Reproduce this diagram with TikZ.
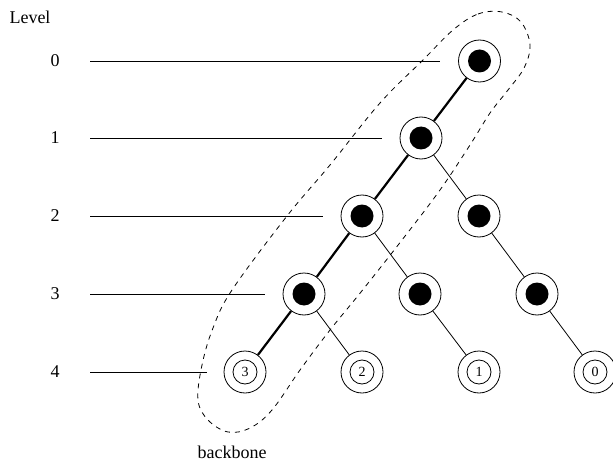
\documentclass[tikz,border=0pt]{standalone}
\usepackage{fontspec}
\setmainfont{Liberation Serif}
\begin{document}
\begin{tikzpicture}[x=1pt,y=-1pt,
  every node/.style={font=\fontsize{18}{20}\selectfont},
  hub/.style={circle,draw,line width=0.8pt,minimum size=42pt,inner sep=0pt,
    path picture={\fill (path picture bounding box.center) circle (11.5pt);}},
  leaf/.style={circle,draw,line width=0.8pt,minimum size=42pt,inner sep=0pt,
    font=\fontsize{14}{16}\selectfont,
    path picture={\draw[line width=0.8pt] (path picture bounding box.center) circle (12pt);}},
  edge/.style={line width=0.8pt},
  spine/.style={line width=2.2pt},
  levelline/.style={line width=0.8pt},
  hull/.style={dashed,line width=0.8pt,dash pattern=on 5pt off 5pt}]
\useasboundingbox (0,0) rectangle (613,468);

% level captions
\node (lvl) at (30,17) {Level};
\foreach \i/\y in {0/61,1/138,2/216,3/294,4/372}
  \node (c\i) at (55,\y) {\i};

% tree nodes
\node[hub] (n0) at (479.5,61) {};
\node[hub] (n1) at (421,138) {};
\node[hub] (n2a) at (362,216) {};
\node[hub] (n2b) at (479,216) {};
\node[hub] (n3a) at (304,294) {};
\node[hub] (n3b) at (420,294) {};
\node[hub] (n3c) at (537,294) {};
\node[leaf] (n4a) at (245,372) {3};
\node[leaf] (n4b) at (362,372) {2};
\node[leaf] (n4c) at (479,372) {1};
\node[leaf] (n4d) at (595,372) {0};

% level guide lines
\foreach \i/\y/\e in {0/61/440,1/138/382,2/216/323,3/294/265,4/372/207}{
  \coordinate (s\i) at (90,\y);
  \coordinate (e\i) at (\e,\y);
  \draw[levelline] (s\i) -- (e\i);
}

% backbone path
\draw[spine] (n0) -- (n1);
\draw[spine] (n1) -- (n2a);
\draw[spine] (n2a) -- (n3a);
\draw[spine] (n3a) -- (n4a);

% remaining tree edges
\draw[edge] (n1) -- (n2b);
\draw[edge] (n2a) -- (n3b);
\draw[edge] (n2b) -- (n3c);
\draw[edge] (n3a) -- (n4b);
\draw[edge] (n3b) -- (n4c);
\draw[edge] (n3c) -- (n4d);

% outline around the backbone
\draw[hull] plot[smooth cycle, tension=0.6] coordinates {
  (453,30) (478,14) (502,12) (521,22) (530,45) (524,68) (508,90) (490,113)
  (470,145) (440,190) (402,240) (361,292) (330,330) (300,370) (272,410)
  (250,428) (228,432) (208,420) (198,400) (202,365) (213,328) (232,290)
  (287,216) (330,165) (380,103) (423,60)};
\node (bb) at (232,452) {backbone};
\end{tikzpicture}
\end{document}
